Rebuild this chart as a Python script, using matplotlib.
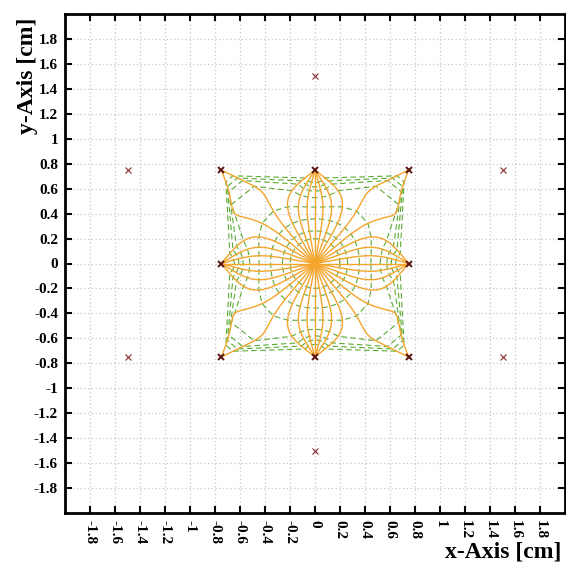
import numpy as np
import matplotlib.pyplot as plt

# point charges [cm] and relative charge
charge_x = [0.0, -0.75, 0.0, 0.75, -0.75, 0.75, -0.75, 0.0, 0.75,
            0.0, -1.5, 1.5, -1.5, 1.5, 0.0]
charge_y = [0.0, 0.75, 0.75, 0.75, 0.0, 0.0, -0.75, -0.75, -0.75,
            1.5, 0.75, 0.75, -0.75, -0.75, -1.5]
charge_q = [2.0, -1.0, -1.0, -1.0, -1.0, -1.0, -1.0, -1.0, -1.0,
            3.0, 3.0, 3.0, 3.0, 3.0, 3.0]

n_lines = 36
pot_levels = [12, 9.5, 7.2, 5.5, 4, 2.5, 1, -1.5]
tick_vals = [-1.8, -1.6, -1.4, -1.2, -1, -0.8, -0.6, -0.4, -0.2, 0,
             0.2, 0.4, 0.6, 0.8, 1, 1.2, 1.4, 1.6, 1.8]
tick_labels = ["-1.8", "-1.6", "-1.4", "-1.2", "-1", "-0.8", "-0.6", "-0.4", "-0.2", "0",
               "0.2", "0.4", "0.6", "0.8", "1", "1.2", "1.4", "1.6", "1.8"]

cx = np.array(charge_x)
cy = np.array(charge_y)
cq = np.array(charge_q)


def efield(x, y):
    dx = x - cx
    dy = y - cy
    r3 = (dx**2 + dy**2) ** 1.5
    ex = np.sum(cq * dx / r3)
    ey = np.sum(cq * dy / r3)
    n = np.hypot(ex, ey)
    return ex / n, ey / n


def potential(x, y):
    v = np.zeros_like(x)
    for q, x0, y0 in zip(charge_q, charge_x, charge_y):
        v += q / np.hypot(x - x0, y - y0)
    return v


def trace(x0, y0, h=0.004, nmax=3000):
    xs, ys = [x0], [y0]
    x, y = x0, y0
    end = None
    for i in range(nmax):
        k1 = efield(x, y)
        k2 = efield(x + 0.5*h*k1[0], y + 0.5*h*k1[1])
        k3 = efield(x + 0.5*h*k2[0], y + 0.5*h*k2[1])
        k4 = efield(x + h*k3[0], y + h*k3[1])
        x += h/6*(k1[0] + 2*k2[0] + 2*k3[0] + k4[0])
        y += h/6*(k1[1] + 2*k2[1] + 2*k3[1] + k4[1])
        xs.append(x)
        ys.append(y)
        d = np.hypot(x - cx, y - cy)
        hit = (d < 0.012) & (cq < 0)
        if hit.any():
            end = np.argmax(hit)
            break
        if abs(x) > 2.2 or abs(y) > 2.2:
            break
    return np.array(xs), np.array(ys), end


fig = plt.figure(figsize=(5.66, 5.70), dpi=100)
ax = fig.add_axes([65/566, 1 - 513/570, 500/566, 499/570])

lines = []
for k in range(n_lines):
    a = 2*np.pi*k/n_lines
    lines.append(trace(charge_x[0] + 0.005*np.cos(a), charge_y[0] + 0.005*np.sin(a)))

# equipotentials: join equal-potential points on neighbouring field lines
for lev in pot_levels:
    px, py = [], []
    for lx, ly, end in lines:
        v = potential(lx, ly)
        px.append(np.interp(-lev, -v, lx))
        py.append(np.interp(-lev, -v, ly))
    px.append(px[0])
    py.append(py[0])
    ax.plot(px, py, color="#5aab32", lw=0.8, linestyle=(0, (5, 3)))

for lx, ly, end in lines:
    if end is not None:
        lx = np.append(lx, cx[end])
        ly = np.append(ly, cy[end])
    ax.plot(lx, ly, color="#f3a52c", lw=1.0)

neg = cq < 0
pos = (cq > 0) & (np.arange(len(cq)) > 0)
ax.plot(cx[neg], cy[neg], "x", color="#5a1414", ms=4.5, mew=1.4)
ax.plot(cx[pos], cy[pos], "x", color="#8b2b2b", ms=4, mew=0.8)

ax.set_xlim(-2, 2)
ax.set_ylim(-2, 2)
ax.set_xticks(tick_vals)
ax.set_yticks(tick_vals)
ax.set_xticklabels(tick_labels, rotation=-90, family="Liberation Serif",
                   fontweight="bold", fontsize=11)
ax.set_yticklabels(tick_labels, family="Liberation Serif", fontweight="bold", fontsize=11)
ax.tick_params(direction="in", length=5, width=1.5, top=True, right=True, pad=5)
ax.grid(True, color="#c8c8c8", linestyle=(0, (1, 2)), linewidth=0.9)
ax.set_axisbelow(True)
for s in ax.spines.values():
    s.set_linewidth(2)

fig.text(561/566, 1 - 552/570, "x-Axis [cm]", ha="right", va="center",
         family="Liberation Serif", fontweight="bold", fontsize=17)
fig.text(28/566, 1 - 76/570, "y-Axis [cm]", ha="center", va="center", rotation=90,
         family="Liberation Serif", fontweight="bold", fontsize=17)

fig.savefig("out.png", dpi=100)
